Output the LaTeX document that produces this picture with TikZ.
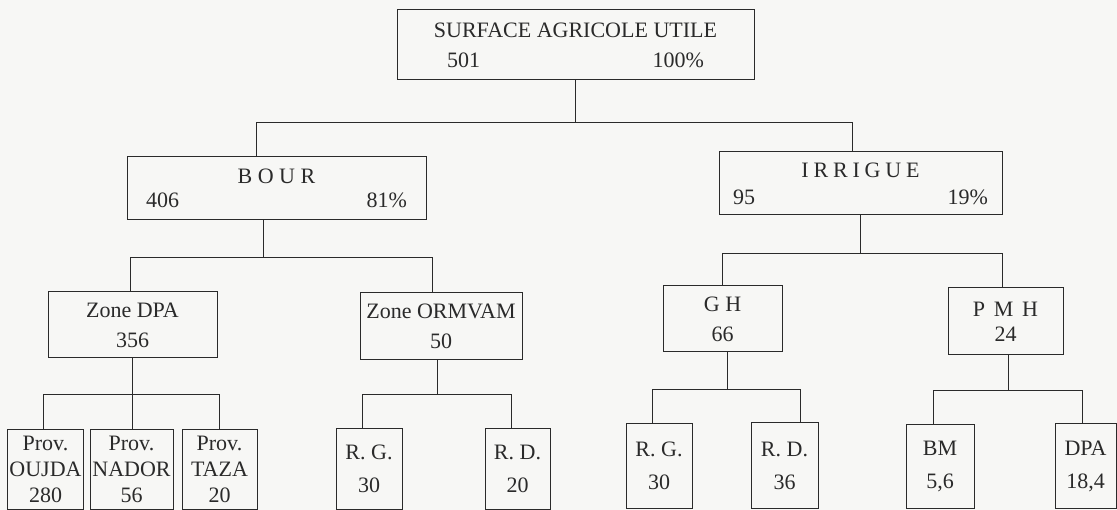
\documentclass[tikz,border=0pt]{standalone}
\usepackage{fontspec}
\setmainfont{Liberation Serif}
\usetikzlibrary{positioning,calc}
\definecolor{ink}{HTML}{2A2A2A}
\definecolor{paper}{HTML}{F7F7F5}
\tikzset{
  box/.style={draw=ink, line width=1pt, text=ink, align=center, inner sep=2pt, font=\fontsize{22}{26}\selectfont},
  prov/.style={box, minimum height=79},
  low/.style={box, execute at begin node={\rule{0pt}{34pt}}},
  link/.style={draw=ink, line width=1pt},
}
\newcommand{\spaced}[2][25]{{\addfontfeature{LetterSpace=#1}#2}}

\begin{document}
\begin{tikzpicture}[x=1pt, y=-1pt]
    \fill[paper] (0,0) rectangle (1117,510);
    \useasboundingbox (0,0) rectangle (1117,510);
    % level 0 and 1
    \node[box, minimum width=357, minimum height=70] (sau) at (575.5,45) {SURFACE AGRICOLE UTILE\\[4pt]\makebox[257pt]{501\hfill 100\%}};
    \node[box, minimum width=299, minimum height=63] (bour) at (276.5,188.5) {\spaced{BOUR}\\[-2pt]\makebox[261pt]{406\hfill 81\%}};
    \node[box, minimum width=283, minimum height=63] (irr) at (860.5,183.5) {\spaced[22]{IRRIGUE}\\[1pt]\makebox[255pt]{95\hfill 19\%}};
    % level 2
    \node[box, minimum width=169, minimum height=66] (zdpa) at (132.5,325) {Zone DPA\\[4pt]356};
    \node[box, minimum width=162, minimum height=67] (zorm) at (441,326.5) {Zone ORMVAM\\[4pt]50};
    \node[box, minimum width=119, minimum height=66] (gh) at (722.5,319) {G H\\[4pt]66};
    \node[box, minimum width=115, minimum height=67] (pmh) at (1005.5,321.5) {\spaced[15]{P M H}\\[-1pt]24};
    % level 3
    \node[prov, minimum width=75] (oujda) at (45.5,469.5) {Prov.\\OUJDA\\280};
    \node[prov, minimum width=83] (nador) at (131.5,469.5) {Prov.\\NADOR\\56};
    \node[prov, minimum width=75] (taza) at (219.5,469.5) {Prov.\\TAZA\\20};
    \node[low, minimum width=66, minimum height=80] (rg1) at (369,469) {R. G.\\[7pt]30};
    \node[low, minimum width=65, minimum height=80] (rd1) at (517.5,469) {R. D.\\[7pt]20};
    \node[low, minimum width=66, minimum height=84] (rg2) at (659,466) {R. G.\\[7pt]30};
    \node[low, minimum width=67, minimum height=85] (rd2) at (784.5,465.5) {R. D.\\[7pt]36};
    \node[low, minimum width=68, minimum height=83] (bm) at (940,466.5) {BM\\[7pt]5,6};
    \node[low, minimum width=61, minimum height=84] (dpa) at (1085.5,466) {DPA\\[7pt]18,4};
    % connectors
    \draw[link] (sau.south) -- ++(0,42) coordinate (b1);
    \draw[link] ([xshift=-20pt]bour.north) |- (b1) -| ([xshift=-8pt]irr.north);
    \draw[link] ([xshift=-13.5pt]bour.south) -- ++(0,37) coordinate (b2);
    \draw[link] ([xshift=-2pt]zdpa.north) |- (b2) -| ([xshift=-9pt]zorm.north);
    \draw[link] (irr.south) -- ++(0,38) coordinate (b3);
    \draw[link] (gh.north) |- (b3) -| ([xshift=-3.5pt]pmh.north);
    \draw[link] (zdpa.south) -- ++(0,36) coordinate (b4);
    \draw[link] ([xshift=-2.5pt]oujda.north) |- (b4) -| (taza.north);
    \draw[link] (b4) -- (b4 |- nador.north);
    \draw[link] ([xshift=-4pt]zorm.south) -- ++(0,34) coordinate (b5);
    \draw[link] ([xshift=-7pt]rg1.north) |- (b5) -| ([xshift=-6.5pt]rd1.north);
    \draw[link] ([xshift=4.5pt]gh.south) -- ++(0,37) coordinate (b6);
    \draw[link] ([xshift=-7pt]rg2.north) |- (b6) -| ([xshift=15.5pt]rd2.north);
    \draw[link] ([xshift=2.5pt]pmh.south) -- ++(0,35) coordinate (b7);
    \draw[link] ([xshift=-7pt]bm.north) |- (b7) -| ([xshift=-3.5pt]dpa.north);
\end{tikzpicture}
\end{document}
